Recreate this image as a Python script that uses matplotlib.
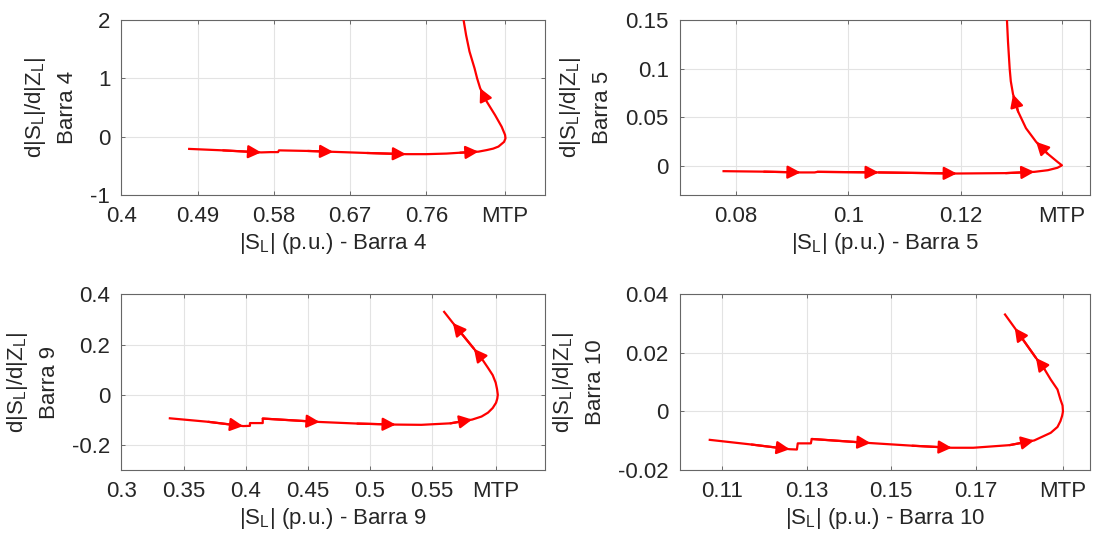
import matplotlib
matplotlib.use("Agg")
import matplotlib.pyplot as plt

plt.rcParams["font.family"] = ["Liberation Sans", "DejaVu Sans"]
plt.rcParams["mathtext.default"] = "regular"

RED = "#ff0000"
TXT = "#262626"
FS = 16

# ---- Barra 4 ----
b4_x = [0.480, 0.520, 0.565, 0.576, 0.585, 0.586, 0.620, 0.650, 0.690, 0.736,
        0.760, 0.784, 0.800, 0.8216, 0.8314, 0.839, 0.8452, 0.8518, 0.8535, 0.853,
        0.851, 0.849, 0.8412, 0.8365, 0.8314, 0.8275, 0.8236, 0.820, 0.817, 0.811,
        0.807, 0.804, 0.802]
b4_y = [-0.21, -0.235, -0.27, -0.265, -0.265, -0.235, -0.245, -0.26, -0.28, -0.30,
        -0.30, -0.29, -0.275, -0.257, -0.23, -0.205, -0.17, -0.09, -0.03, 0.03,
        0.10, 0.17, 0.37, 0.48, 0.60, 0.71, 0.83, 1.00, 1.17, 1.46,
        1.74, 2.00, 2.10]
b4_arrows = [2, 7, 9, 13, 26]
b4_xticks = [0.4, 0.49, 0.58, 0.67, 0.76, 0.853]
b4_xlabels = ["0.4", "0.49", "0.58", "0.67", "0.76", "MTP"]
b4_yticks = [-1, 0, 1, 2]
b4_ylabels = ["-1", "0", "1", "2"]

# ---- Barra 5 ----
b5_x = [0.0778, 0.085, 0.0915, 0.094, 0.0945, 0.1054, 0.1193, 0.128, 0.1331,
        0.1355, 0.1372, 0.138, 0.1372, 0.1354, 0.1334, 0.1316, 0.1302, 0.1293,
        0.1289, 0.1287, 0.1284, 0.1282]
b5_y = [-0.0055, -0.006, -0.0068, -0.0068, -0.0062, -0.0068, -0.0079, -0.0075,
        -0.0062, -0.0045, -0.002, 0.0005, 0.0041, 0.0127, 0.0247, 0.0387, 0.0558,
        0.0736, 0.087, 0.100, 0.1278, 0.152]
b5_arrows = [2, 5, 6, 8, 14, 17]
b5_xticks = [0.08, 0.10, 0.12, 0.138]
b5_xlabels = ["0.08", "0.1", "0.12", "MTP"]
b5_yticks = [0, 0.05, 0.10, 0.15]
b5_ylabels = ["0", "0.05", "0.1", "0.15"]

# ---- Barra 9 ----
b9_x = [0.339, 0.370, 0.398, 0.4035, 0.4035, 0.4138, 0.4138, 0.4596, 0.490,
        0.5209, 0.5415, 0.565, 0.5825, 0.590, 0.5952, 0.599, 0.6017, 0.6027,
        0.6031, 0.6025, 0.6014, 0.599, 0.5952, 0.590, 0.5839, 0.5669, 0.5599]
b9_y = [-0.094, -0.108, -0.125, -0.124, -0.113, -0.113, -0.095, -0.1086, -0.115,
        -0.119, -0.120, -0.114, -0.099, -0.087, -0.0715, -0.053, -0.032, -0.015,
        0.0, 0.022, 0.048, 0.078, 0.107, 0.145, 0.183, 0.286, 0.330]
b9_arrows = [2, 7, 9, 12, 24, 25]
b9_xticks = [0.3, 0.35, 0.4, 0.45, 0.5, 0.55, 0.6017]
b9_xlabels = ["0.3", "0.35", "0.4", "0.45", "0.5", "0.55", "MTP"]
b9_yticks = [-0.2, 0, 0.2, 0.4]
b9_ylabels = ["-0.2", "0", "0.2", "0.4"]

# ---- Barra 10 ----
b10_x = [0.1071, 0.117, 0.126, 0.1277, 0.1279, 0.131, 0.1312, 0.1451, 0.155,
         0.1643, 0.1694, 0.178, 0.1838, 0.1877, 0.1893, 0.190, 0.1904, 0.1906,
         0.1905, 0.190, 0.1893, 0.1877, 0.1862, 0.1842, 0.1792, 0.1769]
b10_y = [-0.0097, -0.0113, -0.0129, -0.013, -0.0109, -0.0109, -0.0094, -0.0108,
         -0.0117, -0.0124, -0.0124, -0.0115, -0.0099, -0.0073, -0.0053, -0.0033,
         -0.0015, 0.0, 0.002, 0.0041, 0.0075, 0.0109, 0.0145, 0.0183, 0.0285, 0.0331]
b10_arrows = [2, 7, 9, 12, 23, 24]
b10_xticks = [0.11, 0.13, 0.15, 0.17, 0.1906]
b10_xlabels = ["0.11", "0.13", "0.15", "0.17", "MTP"]
b10_yticks = [-0.02, 0, 0.02, 0.04]
b10_ylabels = ["-0.02", "0", "0.02", "0.04"]

panels = [
    ("4", b4_x, b4_y, b4_arrows, (0.4, 0.9), (-1, 2), b4_xticks, b4_xlabels, b4_yticks, b4_ylabels),
    ("5", b5_x, b5_y, b5_arrows, (0.07, 0.143), (-0.03, 0.15), b5_xticks, b5_xlabels, b5_yticks, b5_ylabels),
    ("9", b9_x, b9_y, b9_arrows, (0.3, 0.641), (-0.3, 0.4), b9_xticks, b9_xlabels, b9_yticks, b9_ylabels),
    ("10", b10_x, b10_y, b10_arrows, (0.1, 0.197), (-0.02, 0.04), b10_xticks, b10_xlabels, b10_yticks, b10_ylabels),
]

boxes = [
    [0.1111, 0.6389, 0.3874, 0.3241],
    [0.6219, 0.6389, 0.3754, 0.3241],
    [0.1111, 0.1296, 0.3874, 0.3254],
    [0.6219, 0.1296, 0.3754, 0.3254],
]

fig = plt.figure(figsize=(10.93, 5.4), dpi=100)

for box, (name, xs, ys, arr, xl, yl, xt, xtl, yt, ytl) in zip(boxes, panels):
    ax = fig.add_axes(box)
    ax.plot(xs, ys, color=RED, lw=1.6, zorder=3, solid_joinstyle="round")
    # arrowheads along the path, pointing in the direction of travel
    for i in arr:
        ax.annotate("", xy=(xs[i], ys[i]), xytext=(xs[i - 1], ys[i - 1]),
                    arrowprops=dict(arrowstyle="-|>,head_length=0.55,head_width=0.28",
                                    color=RED, lw=1.6, shrinkA=0, shrinkB=0,
                                    mutation_scale=14),
                    zorder=4, annotation_clip=False)
    ax.set_xlim(*xl)
    ax.set_ylim(*yl)
    ax.set_xticks(xt)
    ax.set_xticklabels(xtl)
    ax.set_yticks(yt)
    ax.set_yticklabels(ytl)
    ax.grid(True, color="#e3e3e3", lw=0.8)
    ax.set_axisbelow(True)
    ax.tick_params(direction="in", length=3, width=0.6, top=True, right=True,
                   colors="#555555", labelcolor=TXT, labelsize=FS, pad=8)
    for s in ax.spines.values():
        s.set_color("#666666")
        s.set_linewidth(0.8)
    ax.set_xlabel(f"|S$_L$| (p.u.) - Barra {name}", fontsize=FS, color=TXT, labelpad=3)
    ax.set_ylabel(f"d|S$_L$|/d|Z$_L$|\nBarra {name}", fontsize=FS, color=TXT,
                  labelpad=9, linespacing=1.55)

fig.savefig("out.png", dpi=100)
